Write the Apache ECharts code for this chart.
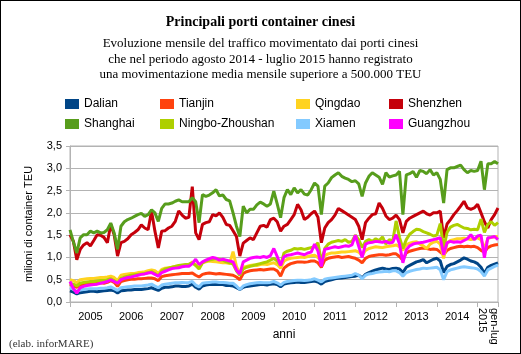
<!DOCTYPE html>
<html>
<head>
<meta charset="utf-8">
<title>Principali porti container cinesi</title>
<script src="https://cdn.jsdelivr.net/npm/echarts@6/dist/echarts.min.js"></script>
<style>
  html, body { margin: 0; padding: 0; background: #fff; }
  #main { position: absolute; left: 0; top: 0; width: 521px; height: 354px; }
  .frame { position: absolute; left: 0; top: 0; width: 521px; height: 354px;
           box-sizing: border-box; border: 1px solid #000; pointer-events: none; }
</style>
</head>
<body>
<div id="main"></div>
<div class="frame"></div>
<script>
// anni e mesi (gen 2005 - lug 2015)
var years = ['2005','2006','2007','2008','2009','2010','2011','2012','2013','2014','2015'];
var monthsPerYear = [12,12,12,12,12,12,12,12,12,12,7];
var lastLabel = 'gen-lug\n2015';

// milioni di TEU al mese
var dalian = [
  0.25,0.22,0.18,0.21,0.22,0.23,0.24,0.24,0.23,0.24,0.25,0.26,
  0.27,0.25,0.20,0.25,0.26,0.27,0.27,0.28,0.28,0.28,0.29,0.30,
  0.32,0.29,0.26,0.31,0.33,0.33,0.34,0.36,0.36,0.35,0.35,0.36,
  0.40,0.33,0.29,0.36,0.38,0.39,0.39,0.40,0.39,0.39,0.37,0.37,
  0.36,0.32,0.28,0.33,0.35,0.36,0.37,0.38,0.39,0.39,0.38,0.40,
  0.41,0.39,0.34,0.40,0.42,0.43,0.44,0.45,0.44,0.44,0.45,0.46,
  0.47,0.45,0.40,0.46,0.48,0.50,0.52,0.53,0.54,0.55,0.56,0.57,
  0.58,0.60,0.54,0.62,0.66,0.69,0.72,0.74,0.76,0.74,0.73,0.75,
  0.76,0.74,0.66,0.78,0.82,0.86,0.90,0.92,0.95,0.88,0.92,0.96,
  0.98,0.92,0.66,0.80,0.84,0.86,0.90,0.94,0.99,0.96,0.92,0.90,
  0.86,0.78,0.64,0.78,0.82,0.85,0.88
];
var tianjin = [
  0.40,0.36,0.33,0.38,0.39,0.40,0.41,0.41,0.42,0.43,0.42,0.44,
  0.48,0.44,0.35,0.46,0.48,0.50,0.51,0.51,0.52,0.52,0.53,0.54,
  0.54,0.52,0.48,0.57,0.59,0.60,0.61,0.62,0.63,0.64,0.64,0.64,
  0.65,0.60,0.56,0.62,0.64,0.65,0.64,0.63,0.64,0.63,0.62,0.61,
  0.60,0.56,0.50,0.64,0.68,0.70,0.71,0.72,0.73,0.72,0.73,0.74,
  0.74,0.70,0.58,0.76,0.82,0.86,0.88,0.90,0.90,0.89,0.90,0.92,
  0.92,0.88,0.78,0.94,0.98,1.00,1.01,1.02,1.00,1.01,1.02,1.00,
  0.98,0.94,0.88,0.98,1.02,1.04,1.05,1.06,1.06,1.05,1.06,1.08,
  1.08,1.02,0.94,1.10,1.14,1.16,1.18,1.20,1.21,1.20,1.18,1.19,
  1.18,1.12,1.06,1.16,1.20,1.22,1.24,1.25,1.24,1.25,1.24,1.25,
  1.22,1.16,1.12,1.22,1.26,1.28,1.29
];
var qingdao = [
  0.50,0.48,0.43,0.50,0.51,0.52,0.53,0.53,0.54,0.55,0.55,0.56,
  0.58,0.55,0.48,0.60,0.62,0.63,0.64,0.64,0.66,0.67,0.68,0.70,
  0.72,0.70,0.64,0.73,0.76,0.77,0.78,0.80,0.80,0.81,0.82,0.83,
  0.90,0.84,0.78,0.88,0.90,0.92,0.91,0.90,0.89,0.88,0.88,0.86,
  1.13,0.80,0.64,0.78,0.80,0.82,0.83,0.82,0.84,0.85,0.84,0.86,
  0.88,0.84,0.76,0.92,0.96,0.98,0.99,1.00,1.01,1.00,1.02,1.04,
  1.05,1.00,0.92,1.04,1.08,1.10,1.10,1.11,1.12,1.12,1.13,1.14,
  1.15,1.12,1.04,1.16,1.20,1.22,1.24,1.23,1.22,1.24,1.25,1.26,
  1.28,1.24,1.16,1.28,1.32,1.34,1.35,1.30,1.26,1.20,1.30,1.34,
  1.36,1.30,0.98,1.32,1.38,1.40,1.42,1.42,1.43,1.42,1.40,1.42,
  1.44,1.40,1.20,1.42,1.45,1.46,1.47
];
var shenzhen = [
  1.51,1.36,0.95,1.18,1.28,1.33,1.26,1.38,1.51,1.50,1.45,1.33,
  1.74,1.51,1.03,1.33,1.36,1.42,1.51,1.56,1.62,1.73,1.66,1.62,
  2.04,1.59,1.21,1.59,1.60,1.66,1.70,1.81,2.04,1.95,1.88,1.90,
  2.59,1.55,1.40,1.74,1.78,1.80,1.96,1.93,2.00,1.90,1.74,1.72,
  1.60,1.47,1.03,1.32,1.38,1.44,1.40,1.55,1.70,1.72,1.68,1.85,
  1.88,1.80,1.59,1.70,1.74,1.85,1.96,2.19,2.07,1.85,1.90,1.98,
  2.04,1.90,1.33,1.66,1.78,1.85,1.95,2.10,2.05,2.00,1.95,1.90,
  1.85,1.70,1.40,1.78,1.88,1.96,1.98,2.22,2.10,1.93,1.85,1.88,
  1.95,1.85,1.55,1.81,1.88,1.92,1.96,2.00,2.04,1.98,1.95,2.00,
  2.00,2.04,1.44,1.75,1.85,1.96,2.05,2.15,2.26,2.11,2.08,2.11,
  2.19,2.00,1.80,1.66,1.85,1.96,2.11
];
var shanghai = [
  1.62,1.35,1.10,1.44,1.51,1.51,1.59,1.55,1.59,1.55,1.56,1.62,
  1.77,1.55,1.18,1.70,1.80,1.85,1.88,1.92,1.96,1.99,1.92,1.96,
  2.07,2.00,1.81,2.10,2.20,2.20,2.22,2.26,2.29,2.25,2.25,2.25,
  2.34,2.25,1.78,2.41,2.37,2.40,2.45,2.52,2.38,2.40,2.30,2.27,
  2.00,1.70,1.47,2.15,2.00,2.08,2.08,2.18,2.24,2.20,2.15,2.20,
  2.49,2.20,1.89,2.34,2.52,2.41,2.56,2.45,2.52,2.42,2.40,2.52,
  2.67,2.60,1.96,2.60,2.67,2.79,2.85,2.90,2.82,2.78,2.75,2.70,
  2.72,2.65,2.37,2.67,2.82,2.90,2.85,2.80,2.64,2.90,2.80,2.83,
  2.85,2.93,1.96,2.85,2.88,2.93,2.80,2.95,2.93,2.88,2.97,2.85,
  2.90,2.75,2.22,2.97,3.01,3.01,3.04,3.07,2.97,2.90,2.95,2.93,
  2.95,3.16,2.52,3.10,3.10,3.15,3.10
];
var ningbo = [
  0.42,0.40,0.36,0.42,0.44,0.45,0.46,0.46,0.47,0.48,0.48,0.50,
  0.52,0.48,0.42,0.53,0.56,0.58,0.60,0.61,0.62,0.63,0.64,0.66,
  0.68,0.64,0.58,0.70,0.74,0.76,0.78,0.80,0.82,0.83,0.84,0.85,
  0.88,0.82,0.74,0.88,0.92,0.94,0.96,0.97,0.96,0.94,0.90,0.88,
  0.85,0.70,0.60,0.74,0.78,0.80,0.82,0.84,0.86,0.88,0.90,0.94,
  0.98,0.92,0.82,1.10,1.14,1.16,1.20,1.19,1.20,1.18,1.20,1.22,
  1.24,1.33,0.90,1.20,1.30,1.34,1.36,1.38,1.36,1.40,1.34,1.36,
  1.50,1.40,1.22,1.36,1.40,1.36,1.42,1.38,1.46,1.30,1.40,1.36,
  1.82,1.45,1.20,1.40,1.52,1.58,1.63,1.62,1.58,1.55,1.52,1.48,
  1.50,1.76,1.20,1.56,1.68,1.72,1.74,1.70,1.66,1.65,1.62,1.63,
  1.62,1.86,1.56,1.74,1.80,1.72,1.78
];
var xiamen = [
  0.32,0.28,0.24,0.27,0.28,0.29,0.30,0.30,0.30,0.31,0.31,0.32,
  0.34,0.30,0.26,0.32,0.33,0.34,0.35,0.36,0.36,0.36,0.37,0.38,
  0.40,0.36,0.32,0.38,0.40,0.41,0.42,0.43,0.43,0.44,0.43,0.44,
  0.46,0.38,0.34,0.42,0.43,0.44,0.45,0.45,0.44,0.44,0.43,0.42,
  0.42,0.36,0.28,0.36,0.39,0.41,0.42,0.43,0.44,0.43,0.43,0.44,
  0.46,0.43,0.38,0.44,0.46,0.47,0.48,0.49,0.49,0.48,0.49,0.50,
  0.52,0.49,0.45,0.51,0.53,0.54,0.55,0.56,0.57,0.58,0.59,0.60,
  0.64,0.60,0.52,0.60,0.63,0.64,0.66,0.67,0.68,0.69,0.68,0.70,
  0.70,0.66,0.58,0.66,0.69,0.71,0.73,0.74,0.76,0.75,0.76,0.77,
  0.78,0.72,0.50,0.68,0.72,0.74,0.76,0.78,0.79,0.78,0.77,0.76,
  0.74,0.68,0.58,0.72,0.76,0.80,0.83
];
var guangzhou = [
  0.46,0.30,0.20,0.32,0.35,0.37,0.38,0.39,0.40,0.42,0.44,0.46,
  0.50,0.46,0.42,0.50,0.53,0.55,0.56,0.58,0.60,0.62,0.63,0.65,
  0.66,0.62,0.58,0.66,0.69,0.72,0.75,0.76,0.77,0.79,0.80,0.80,
  0.86,0.96,0.84,0.90,0.94,0.97,1.00,0.98,0.94,0.96,0.94,0.92,
  0.90,0.72,0.63,0.90,0.94,0.98,1.00,1.01,1.00,1.02,1.00,1.04,
  1.20,1.02,0.82,1.02,1.05,1.06,1.08,1.10,1.08,1.06,1.10,1.12,
  1.30,1.14,0.80,1.18,1.20,1.22,1.24,1.22,1.24,1.26,1.25,1.28,
  1.50,1.25,1.00,1.30,1.33,1.34,1.36,1.35,1.34,1.36,1.32,1.34,
  1.51,1.30,0.88,1.17,1.26,1.30,1.32,1.33,1.34,1.36,1.38,1.40,
  1.42,1.44,1.06,1.33,1.36,1.34,1.35,1.34,1.38,1.42,1.51,1.40,
  1.48,1.50,0.99,1.44,1.45,1.47,1.40
];

var portNames = ['Dalian','Tianjin','Qingdao','Shenzhen','Shanghai','Ningbo-Zhoushan','Xiamen','Guangzhou'];
var portData = [dalian, tianjin, qingdao, shenzhen, shanghai, ningbo, xiamen, guangzhou];
var portColors = ['#004586','#ff420e','#ffd320','#c5000b','#579d1c','#aecf00','#83caff','#ff00ff'];

// categorie mensili
var months = [];
var yearStart = [];
for (var y = 0; y < years.length; y++) {
  yearStart.push(months.length);
  for (var m = 1; m <= monthsPerYear[y]; m++) {
    months.push(years[y] + '-' + (m < 10 ? '0' + m : m));
  }
}
var lastIdx = months.length - 1;
var lastYearStart = yearStart[yearStart.length - 1];
var lastMid = lastYearStart + Math.floor((lastIdx - lastYearStart) / 2);

var sans = '"Liberation Sans", Arial, sans-serif';
var serif = '"Liberation Serif", "Times New Roman", serif';

// legenda: 2 righe x 4 colonne
var legCols = [60, 155, 291, 384];
var legRows = [93, 113];
var legends = portNames.map(function (n, i) {
  return {
    data: [n],
    left: legCols[i % 4],
    top: legRows[Math.floor(i / 4)],
    icon: 'rect',
    itemWidth: 14,
    itemHeight: 10,
    selectedMode: false,
    textStyle: { fontFamily: sans, fontSize: 12, color: '#000' }
  };
});

var chart = echarts.init(document.getElementById('main'));
var option = {
  animation: false,
  backgroundColor: '#fff',
  title: [
    {
      text: 'Principali porti container cinesi',
      left: 'center', top: 10,
      textStyle: { fontFamily: serif, fontSize: 14, fontWeight: 'bold', color: '#000' }
    },
    {
      text: 'Evoluzione mensile del traffico movimentato dai porti cinesi\nche nel periodo agosto 2014 - luglio 2015 hanno registrato\nuna movimentazione media mensile superiore a 500.000 TEU',
      left: 'center', top: 31,
      textStyle: { fontFamily: serif, fontSize: 13, fontWeight: 'normal', color: '#000', lineHeight: 15.5 }
    },
    {
      text: '(elab. inforMARE)',
      left: 4, top: 334,
      textStyle: { fontFamily: serif, fontSize: 11, fontWeight: 'normal', color: '#333' }
    }
  ],
  legend: legends,
  grid: {
    left: 70, right: 23, top: 146, bottom: 52,
    show: true, borderColor: '#b3b3b3', borderWidth: 1
  },
  xAxis: [
    {
      type: 'category',
      data: months,
      boundaryGap: false,
      name: 'anni',
      nameLocation: 'middle',
      nameGap: 27,
      nameTextStyle: { fontFamily: sans, fontSize: 12, color: '#000' },
      axisLine: { lineStyle: { color: '#b3b3b3' } },
      axisTick: {
        length: 5,
        lineStyle: { color: '#b3b3b3' },
        interval: function (i) { return yearStart.indexOf(i) >= 0 || i === lastIdx; }
      },
      axisLabel: {
        fontFamily: sans, fontSize: 11, color: '#000', margin: 9,
        interval: function (i) { return i < lastYearStart && (i - 6) % 12 === 0; },
        formatter: function (v) { return v.slice(0, 4); }
      },
      splitLine: { show: false }
    },
    {
      type: 'category',
      data: months,
      boundaryGap: false,
      position: 'bottom',
      axisLine: { show: false },
      axisTick: { show: false },
      splitLine: { show: false },
      axisLabel: {
        fontFamily: sans, fontSize: 11, color: '#000', margin: 6,
        rotate: -90, lineHeight: 12,
        interval: function (i) { return i === lastMid; },
        formatter: function () { return lastLabel; }
      }
    }
  ],
  yAxis: {
    type: 'value',
    min: 0, max: 3.5, interval: 0.5,
    name: 'milioni di container TEU',
    nameLocation: 'middle',
    nameGap: 36,
    nameTextStyle: { fontFamily: sans, fontSize: 11, color: '#000' },
    axisLine: { show: true, lineStyle: { color: '#b3b3b3' } },
    axisTick: { show: true, length: 4, lineStyle: { color: '#b3b3b3' } },
    axisLabel: {
      fontFamily: sans, fontSize: 11, color: '#000', margin: 8,
      formatter: function (v) { return v.toFixed(1).replace('.', ','); }
    },
    splitLine: { lineStyle: { color: '#b3b3b3' } }
  },
  series: portNames.map(function (n, i) {
    return {
      name: n,
      type: 'line',
      data: portData[i],
      symbol: 'none',
      color: portColors[i],
      lineStyle: { width: 3, color: portColors[i] },
      itemStyle: { color: portColors[i] }
    };
  })
};
chart.setOption(option);
</script>
</body>
</html>
